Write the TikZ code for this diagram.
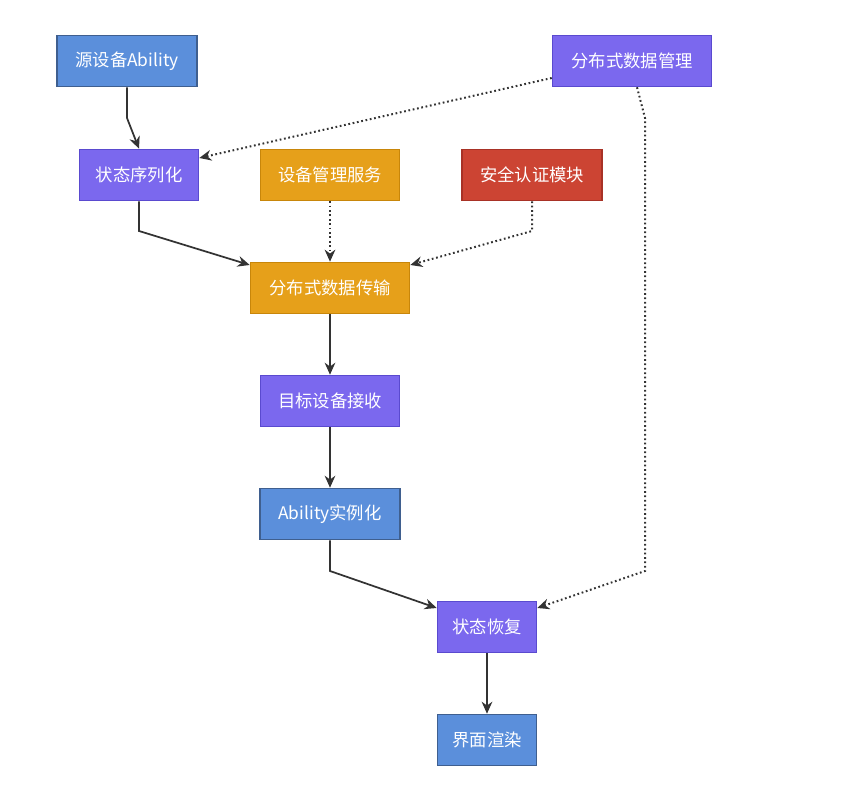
\documentclass[tikz,border=0pt]{standalone}
\usepackage{fontspec}
\setmainfont{Noto Sans CJK SC}
\usetikzlibrary{arrows.meta}
\definecolor{bluefill}{HTML}{5B8FDB}
\definecolor{blueline}{HTML}{3F5F8F}
\definecolor{purfill}{HTML}{7B68EE}
\definecolor{purline}{HTML}{5A4ACF}
\definecolor{orafill}{HTML}{E6A01A}
\definecolor{oraline}{HTML}{C8860A}
\definecolor{redfill}{HTML}{CC4433}
\definecolor{redline}{HTML}{A83226}
\definecolor{edge}{HTML}{333333}
\tikzset{
  box/.style={draw, line width=1.2pt, text=white, minimum height=51*0.75pt, inner sep=0pt, font=\fontsize{13}{15}\selectfont},
  bluebox/.style={box, fill=bluefill, draw=blueline},
  purbox/.style={box, fill=purfill, draw=purline},
  orabox/.style={box, fill=orafill, draw=oraline},
  redbox/.style={box, fill=redfill, draw=redline},
  flow/.style={draw=edge, line width=1.3pt, -{Stealth[length=9pt,width=8pt]}},
  ctrl/.style={flow, dotted, line width=1.5pt}
}
\begin{document}
\begin{tikzpicture}[x=0.75pt,y=-0.75pt]
\useasboundingbox (0,0) rectangle (842,791);
% nodes
\node[bluebox, minimum width=140*0.75pt] (src) at (127,61) {源设备Ability};
\node[purbox, minimum width=159*0.75pt] (mgr) at (632,61) {分布式数据管理};
\node[purbox, minimum width=119*0.75pt] (ser) at (139,175) {状态序列化};
\node[orabox, minimum width=139*0.75pt] (dev) at (330,175) {设备管理服务};
\node[redbox, minimum width=140*0.75pt] (sec) at (532,175) {安全认证模块};
\node[orabox, minimum width=159*0.75pt] (trans) at (330,288) {分布式数据传输};
\node[purbox, minimum width=139*0.75pt] (recv) at (330,401) {目标设备接收};
\node[bluebox, minimum width=140*0.75pt] (inst) at (330,514) {Ability实例化};
\node[purbox, minimum width=99*0.75pt] (rest) at (487,627) {状态恢复};
\node[bluebox, minimum width=99*0.75pt] (ui) at (487,740) {界面渲染};
% connectors
\coordinate (c1) at (127,118);
\coordinate (c2) at (139,231);
\coordinate (c3) at (532,231);
\coordinate (c4) at (330,571);
\coordinate (c5) at (645,118);
\coordinate (c6) at (645,571);
\draw[flow] (src.south) -- (c1) -- (ser.north);
\draw[ctrl] (mgr.west |- 0,78) -- (ser.east |- 0,158);
\draw[flow] (ser.south) -- (c2) -- (trans.north west |- 0,265);
\draw[ctrl] (dev) -- (trans);
\draw[ctrl] (sec.south) -- (c3) -- (trans.east |- 0,265);
\draw[flow] (trans) -- (recv);
\draw[flow] (recv) -- (inst);
\draw[flow] (inst.south) -- (c4) -- (rest.west |- 0,608);
\draw[ctrl] (mgr.south -| 637,0) -- (c5) -- (c6) -- (rest.east |- 0,608);
\draw[flow] (rest) -- (ui);
\end{tikzpicture}
\end{document}
